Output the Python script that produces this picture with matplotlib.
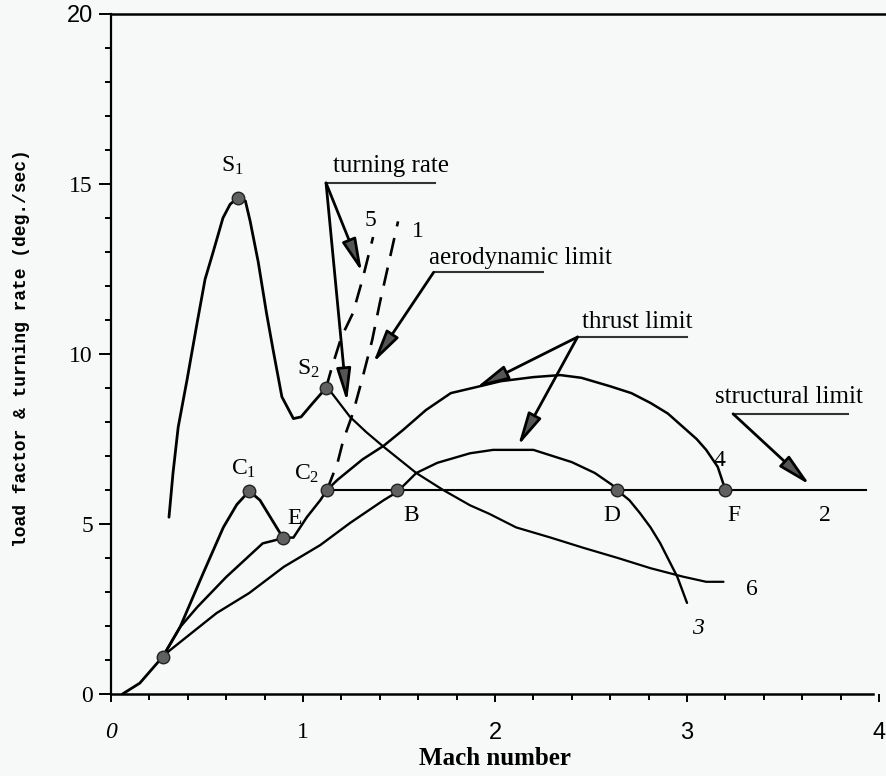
import matplotlib
matplotlib.use("Agg")
import matplotlib.pyplot as plt

plt.rcParams['font.family'] = ['Liberation Serif', 'DejaVu Serif']
plt.rcParams['mathtext.fontset'] = 'custom'
plt.rcParams['mathtext.rm'] = 'Liberation Serif'
plt.rcParams['mathtext.it'] = 'Liberation Serif:italic'

# ---------------- data (Mach number, load factor / turning rate) -------------
start_x = [0.06, 0.15, 0.27]
start_y = [0.0, 0.32, 1.1]

# curve 6 : turning rate curve through S1, S2
c6_x = [0.302, 0.323, 0.35, 0.396, 0.448, 0.49, 0.53, 0.583, 0.62, 0.66, 0.70,
        0.725, 0.767, 0.81, 0.845, 0.89, 0.95, 0.99, 1.05, 1.12]
c6_y = [5.2, 6.5, 7.85, 9.24, 10.9, 12.2, 12.96, 14.0, 14.4, 14.6, 14.5,
        13.9, 12.7, 11.2, 10.1, 8.74, 8.1, 8.15, 8.55, 9.0]
c6b_x = [1.12, 1.15, 1.245, 1.33, 1.42, 1.59, 1.73, 1.87, 1.97, 2.11, 2.29, 2.46,
         2.64, 2.81, 2.98, 3.1, 3.19]
c6b_y = [9.0, 8.85, 8.15, 7.7, 7.27, 6.5, 6.0, 5.55, 5.3, 4.9, 4.6, 4.3,
         4.0, 3.7, 3.45, 3.3, 3.3]

# curve through C1 to E
c1_x = [0.27, 0.36, 0.48, 0.585, 0.655, 0.72, 0.776, 0.83, 0.895]
c1_y = [1.1, 1.97, 3.55, 4.9, 5.57, 5.97, 5.7, 5.2, 4.6]

# middle curve to E
mid_x = [0.27, 0.36, 0.45, 0.60, 0.79, 0.86, 0.895]
mid_y = [1.1, 1.97, 2.56, 3.44, 4.43, 4.53, 4.6]

# curve 4 : E -> C2 -> F
c4_x = [0.895, 0.95, 1.02, 1.09, 1.125, 1.18, 1.31, 1.42, 1.52, 1.64, 1.77, 1.92,
        2.03, 2.2, 2.34, 2.45, 2.6, 2.71, 2.81, 2.9, 2.98, 3.05, 3.1, 3.16, 3.2]
c4_y = [4.6, 4.6, 5.2, 5.7, 6.0, 6.3, 6.9, 7.3, 7.76, 8.35, 8.85, 9.05,
        9.2, 9.32, 9.38, 9.3, 9.05, 8.85, 8.56, 8.25, 7.85, 7.5, 7.18, 6.68, 6.0]

# curve 3 : lower thrust curve through B, D
c3_x = [0.27, 0.31, 0.55, 0.72, 0.9, 1.09, 1.245, 1.42, 1.49, 1.59, 1.7, 1.87,
        1.99, 2.2, 2.4, 2.52, 2.61, 2.635, 2.7, 2.755, 2.81, 2.86, 2.95, 3.0]
c3_y = [1.1, 1.3, 2.38, 2.97, 3.74, 4.38, 5.03, 5.7, 5.94, 6.5, 6.8, 7.08,
        7.18, 7.18, 6.82, 6.5, 6.15, 6.0, 5.7, 5.32, 4.9, 4.44, 3.44, 2.68]

# curve 2 : structural limit
c2_x = [1.125, 3.93]
c2_y = [6.0, 6.0]

# dashed curves 5 and 1
d5_x = [1.12, 1.15, 1.2, 1.26, 1.31, 1.365]
d5_y = [9.0, 9.6, 10.5, 11.2, 12.2, 13.44]
d1_x = [1.125, 1.18, 1.21, 1.26, 1.31, 1.36, 1.40, 1.45, 1.495]
d1_y = [6.0, 6.8, 7.47, 8.26, 9.3, 10.4, 11.5, 12.76, 13.9]

# marked points
pt_names = ['S1', 'S2', 'C1', 'C2', 'E', 'B', 'D', 'F', 'O']
pt_x = [0.66, 1.12, 0.72, 1.125, 0.895, 1.49, 2.635, 3.2, 0.27]
pt_y = [14.6, 9.0, 5.97, 6.0, 4.6, 6.0, 6.0, 6.0, 1.1]

x_ticks = [0, 1, 2, 3, 4]
x_ticklabels = ['0', '1', '2', '3', '4']
y_ticks = [0, 5, 10, 15, 20]
y_ticklabels = ['0', '5', '10', '15', '20']

# ---------------- figure -------------------------------------------------------
BG = '#f7f9f8'
fig = plt.figure(figsize=(8.86, 7.76), dpi=100, facecolor=BG)
ax = fig.add_axes([111/886, 82/776, 768/886, 680/776], facecolor=BG)
ax.set_xlim(0, 4)
ax.set_ylim(0, 20)

K = 'black'
kw = dict(color=K, solid_joinstyle='round', solid_capstyle='round')
ax.plot(start_x, start_y, lw=2.0, **kw)
ax.plot(c6_x, c6_y, lw=2.0, **kw)
ax.plot(c6b_x, c6b_y, lw=1.6, **kw)
ax.plot(c1_x, c1_y, lw=2.0, **kw)
ax.plot(mid_x, mid_y, lw=1.8, **kw)
ax.plot(c4_x, c4_y, lw=1.8, **kw)
ax.plot(c3_x, c3_y, lw=1.7, **kw)
ax.plot(c2_x, c2_y, lw=1.5, color=K)
ax.plot(d5_x, d5_y, color=K, lw=1.9, linestyle=(0, (7, 4.5)))
ax.plot(d1_x, d1_y, color=K, lw=1.9, linestyle=(0, (7, 4.5)))

ax.plot(pt_x, pt_y, 'o', ms=9, mfc='#606060', mec='#222222', mew=1.0, zorder=5)

# point labels
FS = 17
def lbl(x, y, s, **kw):
    ax.text(x, y, s, fontsize=FS, ha='center', va='baseline', **kw)

lbl(0.63, 15.35, r'S$_1$')
lbl(1.03, 9.4, r'S$_2$')
lbl(0.69, 6.45, r'C$_1$')
lbl(1.02, 6.3, r'C$_2$')
lbl(0.955, 5.0, 'E')
lbl(1.565, 5.1, 'B')
lbl(2.61, 5.1, 'D')
lbl(3.245, 5.1, 'F')
lbl(3.72, 5.1, '2')
lbl(3.17, 6.7, '4')
lbl(3.34, 2.9, '6')
lbl(3.055, 1.75, '3', style='italic')
lbl(1.35, 13.75, '5')
lbl(1.6, 13.45, '1')

# callouts
ULC = '#333333'
def callout(text, tx, ty, cx, cy, x_end, targets):
    ax.text(tx, ty, text, fontsize=18, ha='center', va='baseline')
    ax.plot([cx, x_end], [cy, cy], color=ULC, lw=1.5, clip_on=False)
    for (px, py) in targets:
        ax.annotate('', xy=(px, py), xytext=(cx, cy),
                    arrowprops=dict(arrowstyle='-|>,head_length=1.0,head_width=0.22',
                                    lw=2.0, color=K, fc='#555555',
                                    shrinkA=0, shrinkB=0, mutation_scale=20))

callout('turning rate', 1.46, 15.35, 1.12, 15.03, 1.69, [(1.307, 12.41), (1.229, 8.59)])
callout('aerodynamic limit', 2.13, 12.65, 1.68, 12.4, 2.25, [(1.365, 9.74)])
callout('thrust limit', 2.74, 10.75, 2.43, 10.5, 3.0, [(1.9, 9.0), (2.12, 7.3)])
callout('structural limit', 3.53, 8.55, 3.24, 8.24, 3.84, [(3.64, 6.15)])

# axes frame
for s in ['top', 'right', 'bottom']:
    ax.spines[s].set_visible(False)
ax.spines['left'].set_linewidth(1.6)
ax.axhline(0, xmin=0, xmax=3.97/4, color=K, lw=1.8, clip_on=False)
ax.axhline(20, xmin=0, xmax=1.01, color=K, lw=1.8, clip_on=False)

ax.set_xticks(x_ticks, labels=x_ticklabels)
ax.set_yticks(y_ticks, labels=y_ticklabels)
ax.set_xticks([i * 0.2 for i in range(20)], minor=True)
ax.set_yticks(list(range(0, 21)), minor=True)
ax.tick_params(axis='x', which='major', length=6, width=1.4, labelsize=17, pad=14)
ax.tick_params(axis='x', which='minor', length=4, width=1.4)
ax.tick_params(axis='y', which='major', length=9, width=1.4, labelsize=17, pad=4)
ax.tick_params(axis='y', which='minor', length=4, width=1.4)

for t in ax.get_xticklabels():
    s = t.get_text()
    if s == '0':
        t.set_fontstyle('italic')
    elif s in ('2', '3', '4'):
        t.set_fontfamily('Liberation Sans')
for t in ax.get_yticklabels():
    if t.get_text() == '20':
        t.set_fontfamily('Liberation Sans')

ax.set_xlabel('Mach number', fontsize=18, fontweight='bold', labelpad=2)
fig.text(22/886, 1 - 348/776, 'load factor & turning rate (deg./sec)',
         rotation=90, ha='center', va='center', fontsize=13, fontweight='bold',
         family=['Liberation Mono', 'DejaVu Sans Mono'])

fig.savefig('out.png', dpi=100, facecolor=BG)
